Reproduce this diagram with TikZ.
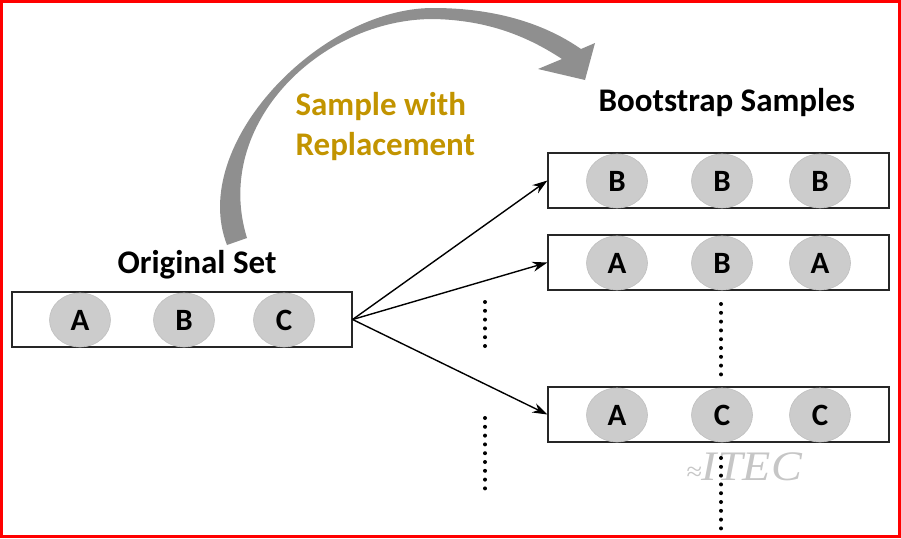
\documentclass[tikz,border=0pt]{standalone}
\usepackage{fontspec}
\setmainfont{Carlito}
\newfontfamily\markfont{Liberation Serif}
\usetikzlibrary{shapes.geometric, arrows.meta, positioning}
\definecolor{Gold}{rgb}{0.76,0.58,0.0}
\definecolor{BallGray}{rgb}{0.80,0.80,0.80}
\definecolor{ArcGray}{rgb}{0.56,0.56,0.56}

\tikzset{
  setbox/.style={draw=black!85, line width=1.2pt, minimum width=341pt, minimum height=55pt, inner sep=0pt},
  ball/.style={ellipse, fill=BallGray, draw=black!25, line width=0.6pt, minimum width=61pt, minimum height=54pt, inner sep=0pt, font=\fontsize{31}{31}\selectfont\bfseries},
  title/.style={font=\fontsize{33}{40}\selectfont\bfseries},
  pick/.style={-{Stealth[length=15pt,width=10pt]}, line width=1.4pt},
  dots/.style={line width=4pt, line cap=round, dash pattern=on 0pt off 8.8pt}
}

\begin{document}
\begin{tikzpicture}[x=1pt,y=-1pt]

    \useasboundingbox (0,0) rectangle (901,538);

    % red frame
    \draw[red, line width=2.6pt] (1.3,1.3) rectangle (899.6,536.6);

    % curved grey arrow
    \fill[ArcGray]
        (227,245) .. controls (188,145) and (320,8) .. (433,8)
        .. controls (500,8) and (548,26) .. (581,49)
        -- (595,43) -- (585,80) -- (538,69) -- (562,59)
        .. controls (530,38) and (490,20) .. (433,19)
        .. controls (320,19) and (212,125) .. (247,238)
        -- cycle;

    % labels
    \node[title, Gold, anchor=base west] (swr1) at (292,115) {Sample with};
    \node[title, Gold, anchor=base west] (swr2) at (292,155) {Replacement};
    \node[title, anchor=base] (origlbl) at (197,273) {Original Set};
    \node[title, anchor=base west] (bslbl) at (595,111) {Bootstrap Samples};

    % original set
    \node[setbox, minimum width=340pt] (orig) at (182,319.5) {};
    \node[ball] (oA) at (80,320) {A};
    \node[ball] (oB) at (184,320) {B};
    \node[ball] (oC) at (284,320) {C};

    % bootstrap samples
    \node[setbox] (bs1) at (718.5,180.5) {};
    \node[setbox] (bs2) at (718.5,262.5) {};
    \node[setbox] (bs3) at (718.5,414.5) {};
    \node[ball] (s1a) at (617,181) {B};
    \node[ball] (s1b) at (722,181) {B};
    \node[ball] (s1c) at (820,181) {B};
    \node[ball] (s2a) at (617,263) {A};
    \node[ball] (s2b) at (722,263) {B};
    \node[ball] (s2c) at (820,263) {A};
    \node[ball] (s3a) at (617,415) {A};
    \node[ball] (s3b) at (722,415) {C};
    \node[ball] (s3c) at (820,415) {C};

    % arrows
    \draw[pick] (orig.east) -- (bs1.west);
    \draw[pick] (orig.east) -- (bs2.west);
    \draw[pick] (orig.east) -- (bs3.west);

    % dotted gaps
    \draw[dots] (485,302) -- (485,348);
    \draw[dots] (485,418) -- (485,490);
    \draw[dots] (721,304) -- (721,380);

    % watermark
    \node[gray!45, xscale=1.1, font=\fontsize{42}{42}\selectfont\markfont\itshape] (mark) at (744,467) {{\fontsize{26}{26}\selectfont ≈}ITEC};
    \draw[dots] (721,458) -- (721,530);

\end{tikzpicture}
\end{document}
